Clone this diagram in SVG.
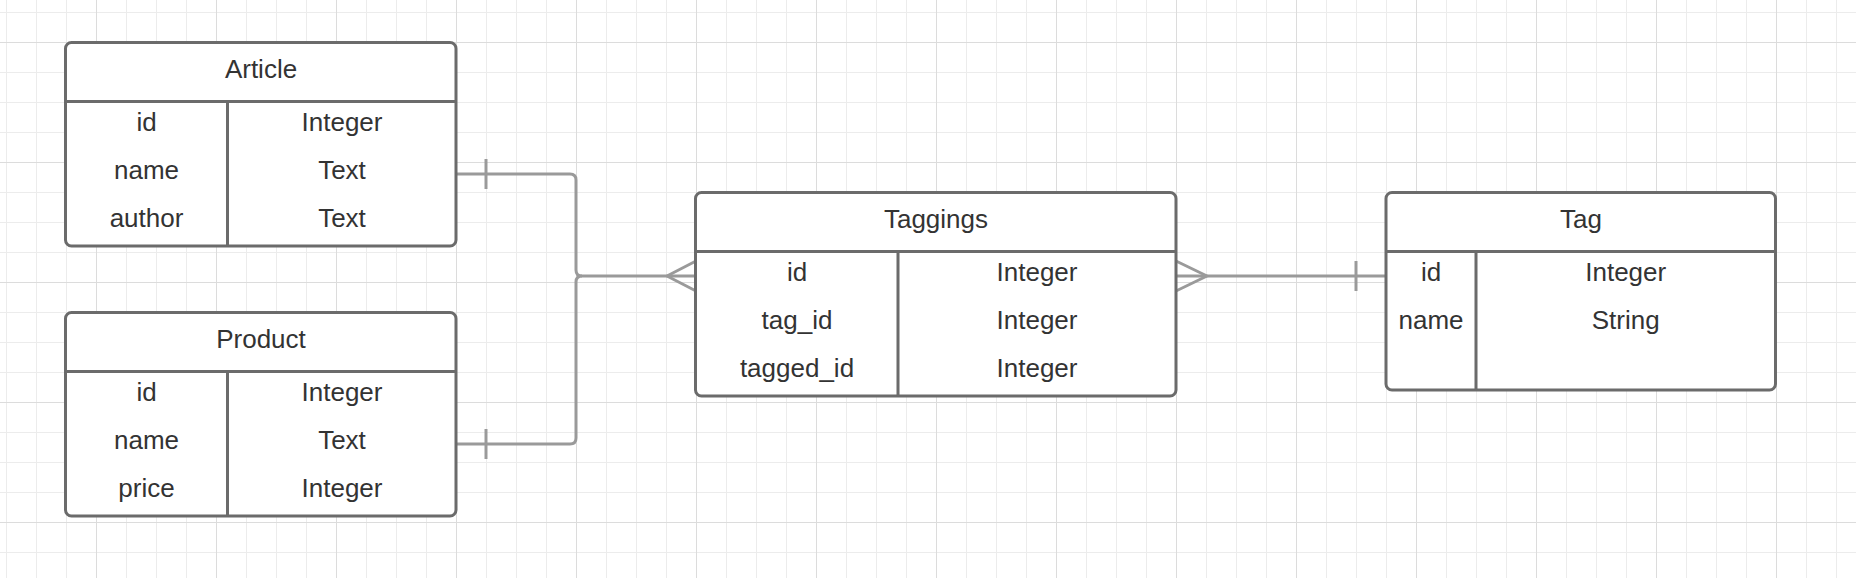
<svg xmlns="http://www.w3.org/2000/svg" width="1856" height="578" viewBox="0 0 1856 578">
  <defs>
    <pattern id="minor" patternUnits="userSpaceOnUse" x="6" y="12" width="30" height="30">
      <path d="M0.5,0 V30 M0,0.5 H30" stroke="#ececec" stroke-width="1" fill="none"/>
    </pattern>
    <pattern id="major" patternUnits="userSpaceOnUse" x="96" y="42" width="120" height="120">
      <path d="M0.5,0 V120 M0,0.5 H120" stroke="#dcdcdc" stroke-width="1" fill="none"/>
    </pattern>
  </defs>
  <style>
    .box { fill: #ffffff; stroke: #6b6b6b; stroke-width: 3; }
    .sep { stroke: #6b6b6b; stroke-width: 3; fill: none; }
    .t { font-family: "Liberation Sans", Arial, sans-serif; font-size: 26px; fill: #333333; text-anchor: middle; }
    .conn { stroke: #9a9a9a; stroke-width: 3; fill: none; stroke-linejoin: round; }
  </style>
  <rect width="1856" height="578" fill="#ffffff"/>
  <rect width="1856" height="578" fill="url(#minor)"/>
  <rect width="1856" height="578" fill="url(#major)"/>

  <g id="connectors">
    <path class="conn" d="M456,174 H570 Q576,174 576,180 V270 Q576,276 582,276 H696"/>
    <path class="conn" d="M486,159 V189"/>
    <path class="conn" d="M456,444 H570 Q576,444 576,438 V282 Q576,276 582,276"/>
    <path class="conn" d="M486,429 V459"/>
    <path class="conn" d="M696,261 L667,276 L696,291"/>
    <path class="conn" d="M1176,276 H1386"/>
    <path class="conn" d="M1176,261 L1207,276 L1176,291"/>
    <path class="conn" d="M1356,261 V291"/>
  </g>

  <g id="article">
    <rect class="box" x="65.5" y="42.5" width="390.5" height="203.5" rx="6"/>
    <path class="sep" d="M65.5,101.5 H456 M227.5,101.5 V246"/>
    <text class="t" x="261" y="77.7">Article</text>
    <text class="t" x="146.5" y="131">id</text>
    <text class="t" x="342" y="131">Integer</text>
    <text class="t" x="146.5" y="179">name</text>
    <text class="t" x="342" y="179">Text</text>
    <text class="t" x="146.5" y="226.7">author</text>
    <text class="t" x="342" y="226.7">Text</text>
  </g>

  <g id="product">
    <rect class="box" x="65.5" y="312.5" width="390.5" height="203.5" rx="6"/>
    <path class="sep" d="M65.5,371.5 H456 M227.5,371.5 V516"/>
    <text class="t" x="261" y="347.7">Product</text>
    <text class="t" x="146.5" y="401">id</text>
    <text class="t" x="342" y="401">Integer</text>
    <text class="t" x="146.5" y="449">name</text>
    <text class="t" x="342" y="449">Text</text>
    <text class="t" x="146.5" y="496.7">price</text>
    <text class="t" x="342" y="496.7">Integer</text>
  </g>

  <g id="taggings">
    <rect class="box" x="695.5" y="192.5" width="480.5" height="203.5" rx="6"/>
    <path class="sep" d="M695.5,251.5 H1176 M898,251.5 V396"/>
    <text class="t" x="936" y="227.7">Taggings</text>
    <text class="t" x="797" y="281">id</text>
    <text class="t" x="1037" y="281">Integer</text>
    <text class="t" x="797" y="329">tag_id</text>
    <text class="t" x="1037" y="329">Integer</text>
    <text class="t" x="797" y="376.7">tagged_id</text>
    <text class="t" x="1037" y="376.7">Integer</text>
  </g>

  <g id="tag">
    <rect class="box" x="1386" y="192.5" width="389.5" height="197.5" rx="6"/>
    <path class="sep" d="M1386,251.5 H1775.5 M1476,251.5 V390"/>
    <text class="t" x="1581" y="227.7">Tag</text>
    <text class="t" x="1431" y="281">id</text>
    <text class="t" x="1625.7" y="281">Integer</text>
    <text class="t" x="1431" y="329">name</text>
    <text class="t" x="1625.7" y="329">String</text>
  </g>
</svg>
